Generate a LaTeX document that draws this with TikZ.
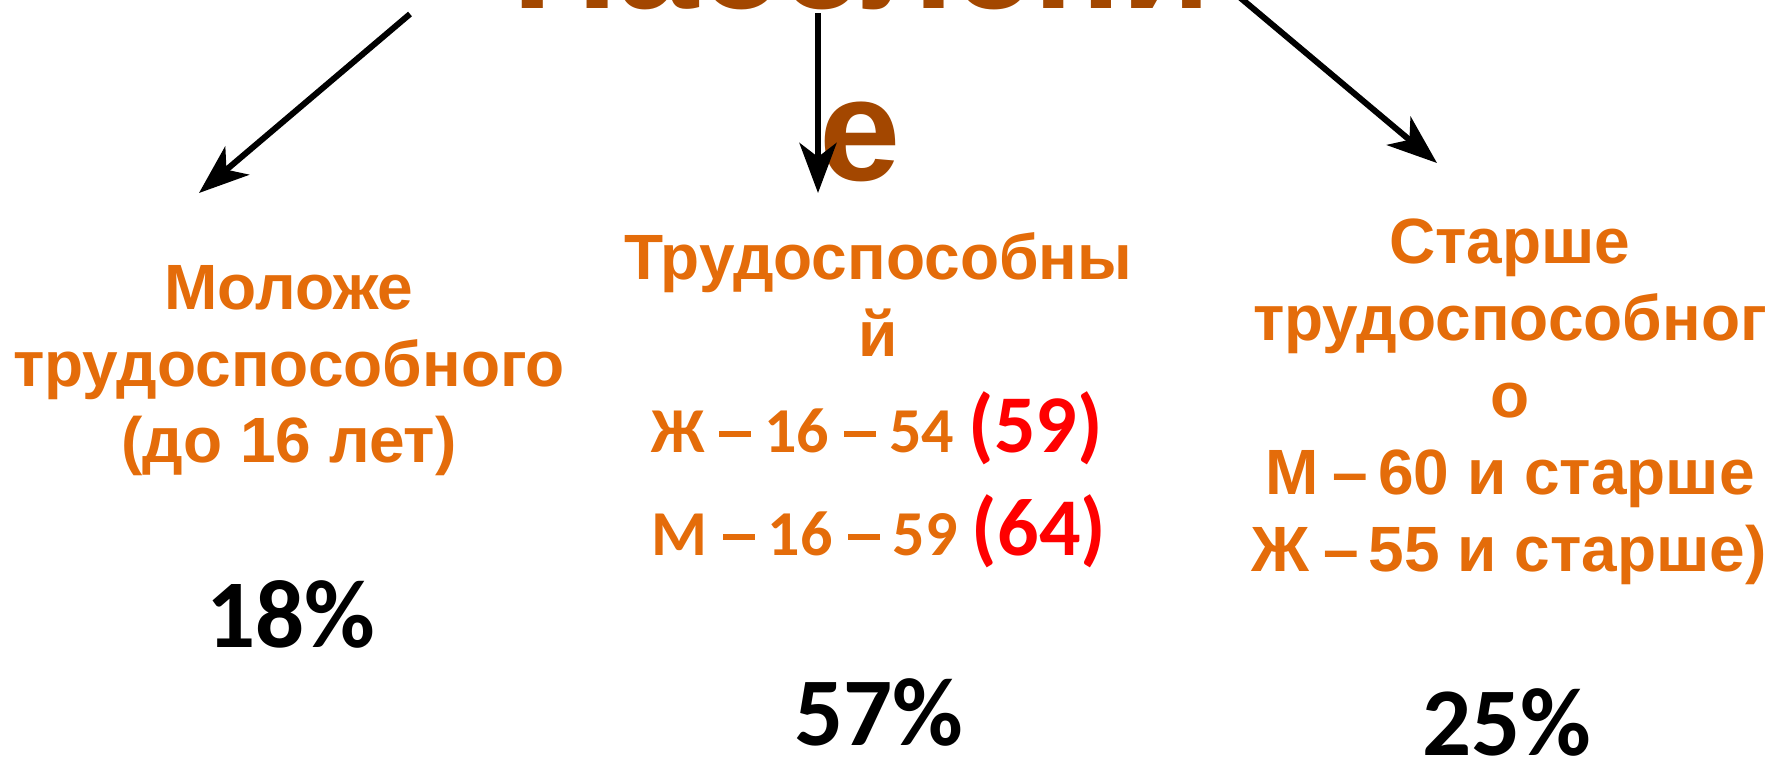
\documentclass[tikz,border=0pt]{standalone}
\usepackage{fontspec}
\setmainfont{Liberation Sans}
\newfontfamily\calib{Carlito}
\usetikzlibrary{arrows.meta}
\definecolor{brownT}{RGB}{163,71,0}
\definecolor{orangeT}{RGB}{228,108,10}
\definecolor{redT}{RGB}{255,0,0}
\tikzset{
  titletext/.style={anchor=base,inner sep=0pt,text=brownT,font=\bfseries\fontsize{146}{172}\selectfont},
  lbl/.style={anchor=base,inner sep=0pt,text=orangeT,font=\bfseries\fontsize{64}{77}\selectfont},
  clbl/.style={anchor=base,inner sep=0pt,text=orangeT,font=\calib\bfseries\fontsize{64}{77}\selectfont},
  pct/.style={anchor=base,inner sep=0pt,text=black,font=\calib\bfseries\fontsize{97}{110}\selectfont},
  conn/.style={line width=6pt,draw=black,-{Stealth[length=50pt,width=37pt,inset=14pt]}}
}
\newcommand{\redbig}[1]{{\color{redT}\fontsize{82}{90}\selectfont #1}}
\newcommand{\dsh}{\hspace{14pt}–\hspace{10pt}}
\newcommand{\cdsh}{\hspace{15pt}\rule[15pt]{32pt}{6pt}\hspace{13pt}}
\begin{document}
\begin{tikzpicture}[x=1pt,y=-1pt]
\useasboundingbox (0,0) rectangle (1785,758);
% title
\node[titletext] (t1) at (862,8) {Населени};
\node[titletext] (t2) at (860,180) {е};
% left column
\node[lbl] (l1) at (289,309) {Моложе};
\node[lbl] (l2) at (289,386) {трудоспособного};
\node[lbl] (l3) at (289,462) {(до 16 лет)};
\node[pct] (p1) at (291,647) {18\%};
% middle column
\node[lbl] (m1) at (878,279) {Трудоспособны};
\node[lbl] (m2) at (878,356) {й};
\node[clbl] (m3) at (877,452) {Ж\cdsh 16\cdsh 54 \redbig{(59)}};
\node[clbl] (m4) at (879,555) {М\cdsh 16\cdsh 59 \redbig{(64)}};
\node[pct] (p2) at (879,745) {57\%};
% right column
\node[lbl] (r1) at (1510,263) {Старше};
\node[lbl] (r2) at (1510,340) {трудоспособног};
\node[lbl] (r3) at (1510,417) {о};
\node[lbl] (r4) at (1510,494) {М\dsh 60 и старше};
\node[lbl] (r5) at (1509,571) {Ж\dsh 55 и старше)};
\node[pct] (p3) at (1507,755) {25\%};
% connectors
\coordinate (aL0) at (410,14);
\coordinate (aL1) at (199,193);
\coordinate (aM0) at (818,13);
\coordinate (aM1) at (818,193);
\coordinate (aR0) at (1237,-5);
\coordinate (aR1) at (1437,163);
\draw[conn] (aL0) -- (aL1);
\draw[conn] (aM0) -- (aM1);
\draw[conn] (aR0) -- (aR1);
\end{tikzpicture}
\end{document}
